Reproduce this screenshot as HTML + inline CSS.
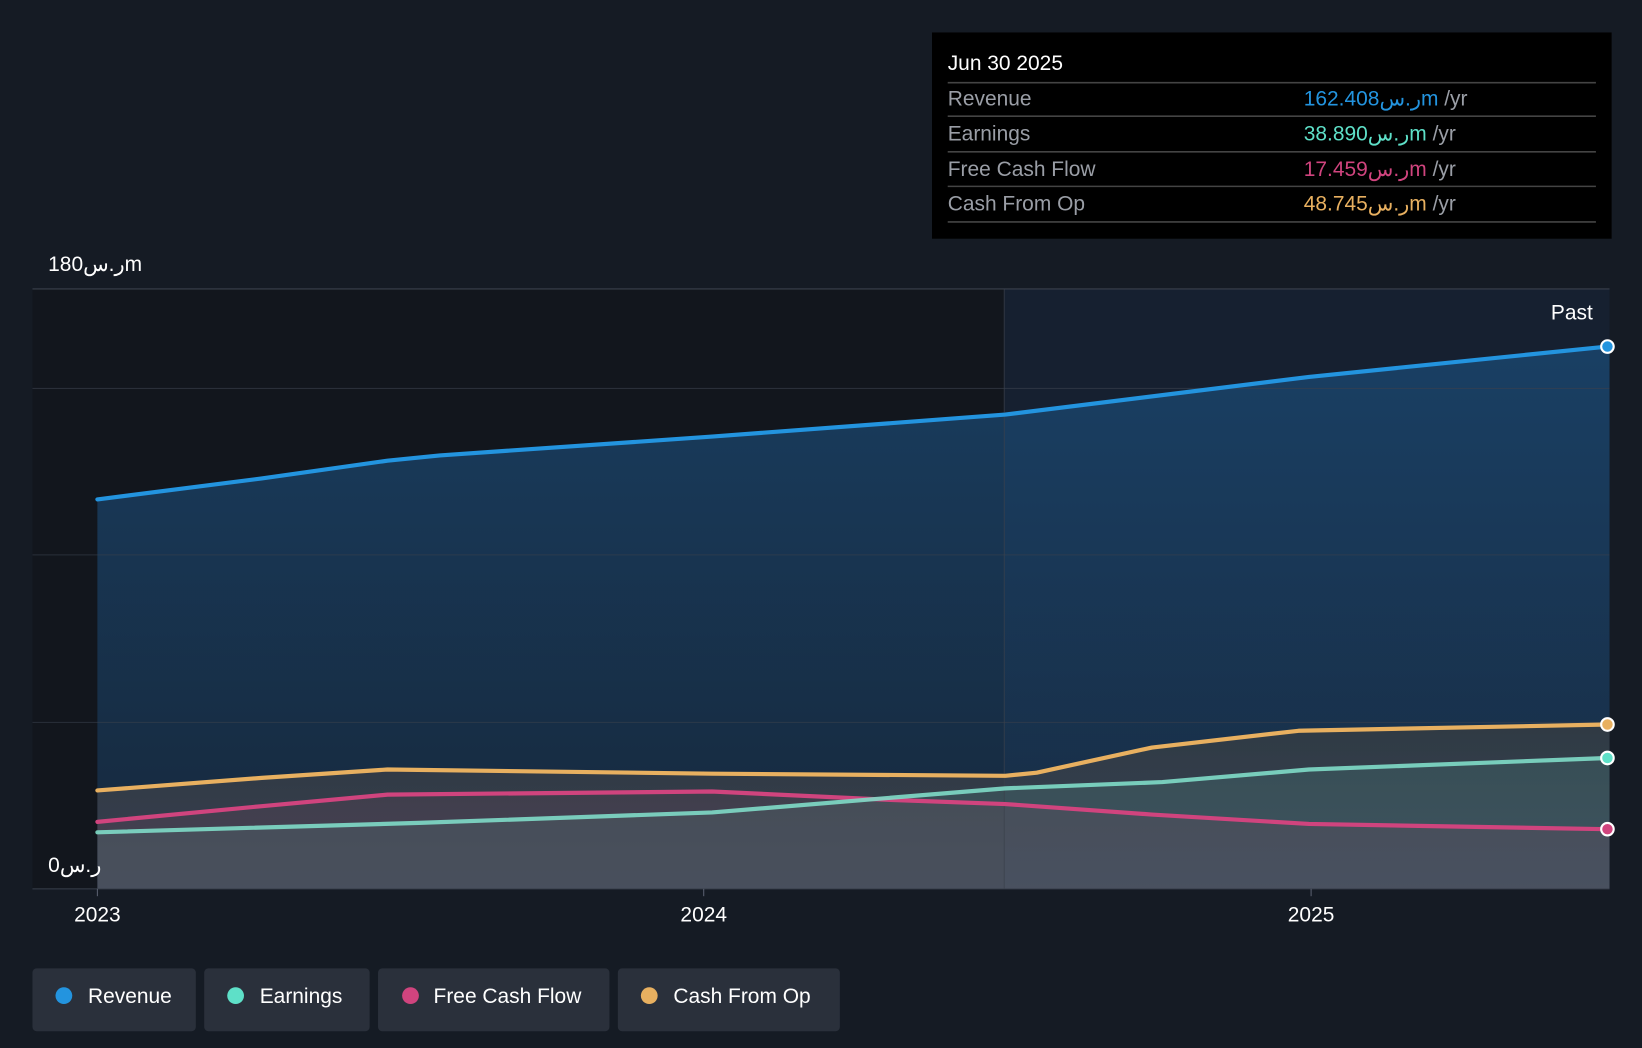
<!DOCTYPE html>
<html><head><meta charset="utf-8"><style>
html,body{margin:0;padding:0;background:#151b24;}
svg{display:block;font-family:"Liberation Sans","Noto Sans CJK SC",sans-serif;}
</style></head><body>
<svg width="1642" height="1048" viewBox="0 0 1568 1001" preserveAspectRatio="none" xmlns="http://www.w3.org/2000/svg">
<defs>
<linearGradient id="rev" x1="0" y1="0" x2="0" y2="1"><stop offset="0" stop-color="#1a4a75" stop-opacity="0.75"/><stop offset="1" stop-color="#1a3552" stop-opacity="0.6"/></linearGradient>
<linearGradient id="low" x1="0" y1="0" x2="0" y2="1"><stop offset="0" stop-color="#4a4538" stop-opacity="0.6"/><stop offset="1" stop-color="#6a6070" stop-opacity="0.55"/></linearGradient>
</defs>
<rect width="1568" height="1001" fill="#151b24"/>
<rect x="31" y="276" width="928" height="573" fill="#12161d"/>
<rect x="959" y="276" width="578" height="573" fill="#162030"/>
<path d="M93,477 L250,457 L370,440 L420,435 L680,417 L960,396 L1250,360 L1535,331 L1537,331 L1537,849 L93,849Z" fill="url(#rev)"/>
<path d="M93,755 L250,743 L370,735 L680,739 L960,741 L990,738 L1100,714 L1240,698 L1535,692 L1537,692 L1537,849 L93,849Z" fill="url(#low)" opacity="0.75"/>
<path d="M93,795 L400,786 L680,776 L960,753 L1110,747 L1250,735 L1535,724 L1537,724 L1537,849 L93,849Z" fill="#4a7a78" opacity="0.3"/>
<path d="M93,785 L250,770 L370,759 L680,756 L850,764 L960,768 L1100,778 L1250,787 L1535,792 L1537,792 L1537,849 L93,849Z" fill="#7a4d5f" opacity="0.2"/>
<g stroke="#3a414c" stroke-width="1">
<line x1="31" y1="276" x2="1537" y2="276"/>
<line x1="31" y1="371" x2="1537" y2="371" stroke-opacity="0.6"/>
<line x1="31" y1="530" x2="1537" y2="530" stroke-opacity="0.6"/>
<line x1="31" y1="690" x2="1537" y2="690" stroke-opacity="0.6"/>
<line x1="31" y1="849" x2="1537" y2="849"/>
<line x1="959" y1="276" x2="959" y2="849" stroke-opacity="0.7"/>
</g>
<g fill="none" stroke-width="4" stroke-linejoin="round" stroke-linecap="round">
<path d="M93,477 L250,457 L370,440 L420,435 L680,417 L960,396 L1250,360 L1535,331" stroke="#2394df"/>
<path d="M93,755 L250,743 L370,735 L680,739 L960,741 L990,738 L1100,714 L1240,698 L1535,692" stroke="#e8b060"/>
<path d="M93,785 L250,770 L370,759 L680,756 L850,764 L960,768 L1100,778 L1250,787 L1535,792" stroke="#d0447e"/>
<path d="M93,795 L400,786 L680,776 L960,753 L1110,747 L1250,735 L1535,724" stroke="#7fdcc8" stroke-opacity="0.9"/>
</g>
<g stroke="#fff" stroke-width="2">
<circle cx="1535" cy="331" r="6" fill="#2394df"/>
<circle cx="1535" cy="692" r="6" fill="#e8b060"/>
<circle cx="1535" cy="724" r="6" fill="#5ee0c8"/>
<circle cx="1535" cy="792" r="6" fill="#d0447e"/>
</g>
<g stroke="#5a6070"><line x1="93" y1="849" x2="93" y2="856"/><line x1="672" y1="849" x2="672" y2="856"/><line x1="1252" y1="849" x2="1252" y2="856"/></g>
<g fill="#fff" font-size="20">
<text x="46" y="259">180ر.سm</text>
<text x="46" y="833">0ر.س</text>
<text x="1521" y="305" text-anchor="end">Past</text>
<text x="93" y="880" text-anchor="middle">2023</text>
<text x="672" y="880" text-anchor="middle">2024</text>
<text x="1252" y="880" text-anchor="middle">2025</text>
</g>
<rect x="890" y="31" width="649" height="197" fill="#000"/>
<g font-size="20">
<text x="905" y="67" fill="#fff">Jun 30 2025</text>
<g stroke="#444" stroke-width="1.5"><line x1="905" y1="79" x2="1524" y2="79"/><line x1="905" y1="111" x2="1524" y2="111"/><line x1="905" y1="145" x2="1524" y2="145"/><line x1="905" y1="178" x2="1524" y2="178"/><line x1="905" y1="212" x2="1524" y2="212"/></g>
<text x="905" y="101" fill="#9a9ea6">Revenue</text>
<text x="905" y="134" fill="#9a9ea6">Earnings</text>
<text x="905" y="168" fill="#9a9ea6">Free Cash Flow</text>
<text x="905" y="201" fill="#9a9ea6">Cash From Op</text>
<text x="1245" y="101"><tspan fill="#2394df">162.408ر.سm</tspan><tspan fill="#9a9ea6"> /yr</tspan></text>
<text x="1245" y="134"><tspan fill="#5ee0c8">38.890ر.سm</tspan><tspan fill="#9a9ea6"> /yr</tspan></text>
<text x="1245" y="168"><tspan fill="#d0447e">17.459ر.سm</tspan><tspan fill="#9a9ea6"> /yr</tspan></text>
<text x="1245" y="201"><tspan fill="#e8b060">48.745ر.سm</tspan><tspan fill="#9a9ea6"> /yr</tspan></text>
</g>
<g font-size="20" fill="#fff">
<rect x="31" y="925" width="156" height="60" rx="4" fill="#2a303b"/>
<circle cx="61" cy="951" r="8" fill="#2394df"/><text x="84" y="958">Revenue</text>
<rect x="195" y="925" width="158" height="60" rx="4" fill="#2a303b"/>
<circle cx="225" cy="951" r="8" fill="#5ee0c8"/><text x="248" y="958">Earnings</text>
<rect x="361" y="925" width="221" height="60" rx="4" fill="#2a303b"/>
<circle cx="392" cy="951" r="8" fill="#d0447e"/><text x="414" y="958">Free Cash Flow</text>
<rect x="590" y="925" width="212" height="60" rx="4" fill="#2a303b"/>
<circle cx="620" cy="951" r="8" fill="#e8b060"/><text x="643" y="958">Cash From Op</text>
</g>
</svg>
</body></html>
